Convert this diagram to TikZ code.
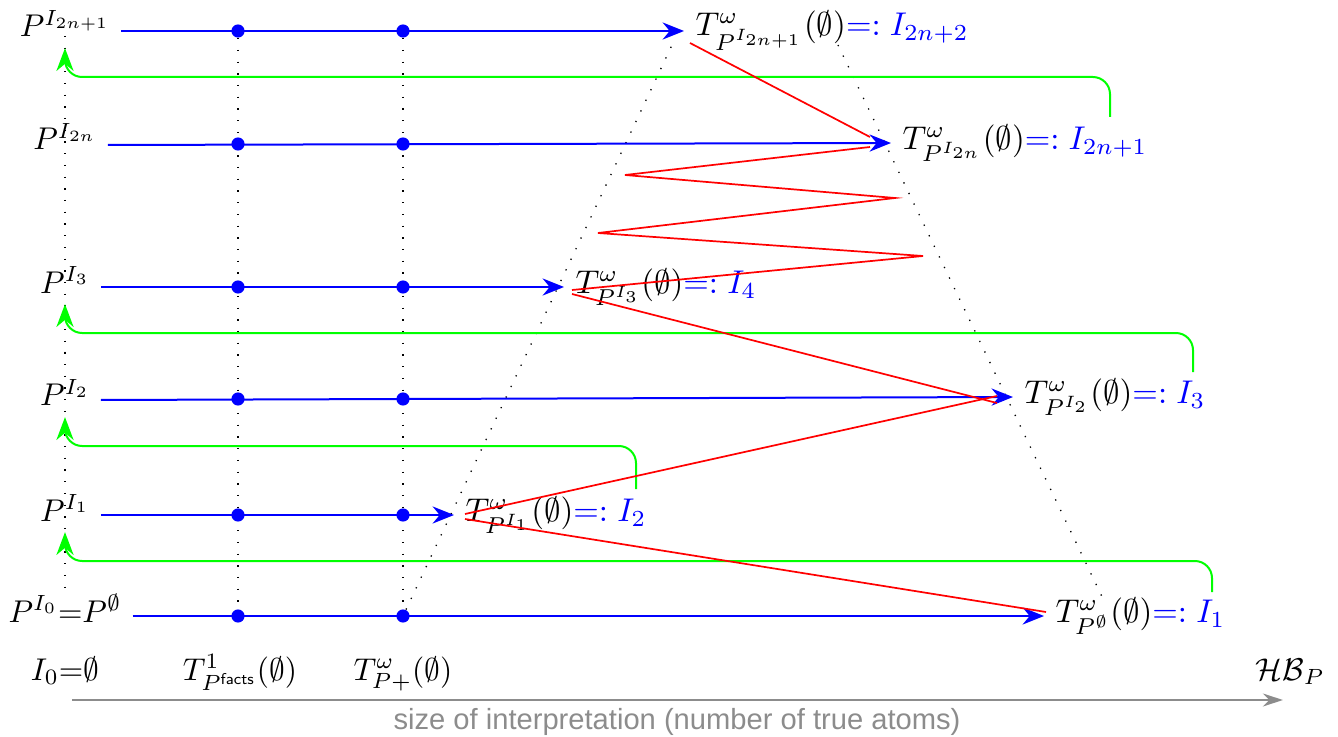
\documentclass[tikz,border=0pt]{standalone}
\usepackage{fontspec}
\newfontfamily\axisfont{Liberation Sans}
\usetikzlibrary{arrows.meta,backgrounds}
\begin{document}
\begin{tikzpicture}[x=0.35pt,y=-0.35pt,
  plabel/.style={scale=1.1, anchor=base},
  tlabel/.style={scale=1.15, anchor=west},
  bline/.style={blue, line width=0.7pt, -{Stealth[length=7.5pt,width=6pt,inset=2.5pt]}},
  gline/.style={green, line width=0.7pt, rounded corners=6pt, -{Stealth[length=8pt,width=6pt,inset=2.5pt]}},
  rline/.style={red, line width=0.6pt},
  dline/.style={black, line width=0.45pt, dash pattern=on 0.45pt off 3.65pt},
  bdot/.style={circle, fill=blue, inner sep=0pt, minimum size=4.6pt},
  axis/.style={black!45, line width=1pt, -{Stealth[length=7pt,width=4.5pt]}}
]
\useasboundingbox (0,0) rectangle (1338,737);

% row labels
\node[plabel] (P2n1) at (65,37) {$P^{I_{2n+1}}$};
\node[plabel] (P2n)  at (65,150) {$P^{I_{2n}}$};
\node[plabel] (P3)   at (65,293) {$P^{I_3}$};
\node[plabel] (P2)   at (65,406) {$P^{I_2}$};
\node[plabel] (P1)   at (65,521) {$P^{I_1}$};
\node[plabel] (P0)   at (65,622) {$P^{I_0}{=}P^{\emptyset}$};

% fixpoint labels
\node[tlabel] (T2n1) at (684,31)  {$T^{\omega}_{P^{I_{2n+1}}}(\emptyset)$\textcolor{blue}{$=:I_{2n+2}$}};
\node[tlabel] (T2n)  at (891,143) {$T^{\omega}_{P^{I_{2n}}}(\emptyset)$\textcolor{blue}{$=:I_{2n+1}$}};
\node[tlabel] (T3)   at (564,287) {$T^{\omega}_{P^{I_3}}(\emptyset)$\textcolor{blue}{$=:I_4$}};
\node[tlabel] (T2)   at (1013,397) {$T^{\omega}_{P^{I_2}}(\emptyset)$\textcolor{blue}{$=:I_3$}};
\node[tlabel] (T1)   at (454,515) {$T^{\omega}_{P^{I_1}}(\emptyset)$\textcolor{blue}{$=:I_2$}};
\node[tlabel] (T0)   at (1044,616) {$T^{\omega}_{P^{\emptyset}}(\emptyset)$\textcolor{blue}{$=:I_1$}};

% bottom labels
\node[plabel] (B0) at (65,680) {$I_0{=}\emptyset$};
\node[plabel] (B1) at (240,680) {$T^{1}_{P^{\mathsf{facts}}}(\emptyset)$};
\node[plabel] (B2) at (403,680) {$T^{\omega}_{P+}(\emptyset)$};
\node[plabel] (HB) at (1290,680) {$\mathcal{HB}_P$};
\node[anchor=base, black!45, font=\axisfont, scale=1.02] (axl) at (677,729) {size of interpretation (number of true atoms)};

% blue arrows
\draw[bline] (P2n1.east |- T2n1.west) -- (T2n1.west);
\draw[bline] (P2n.east |- 0,145) -- (T2n.west);
\draw[bline] (P3.east |- T3.west) -- (T3.west);
\draw[bline] (P2.east |- 0,400) -- (T2.west);
\draw[bline] (P1.east |- T1.west) -- (T1.west);
\draw[bline] (P0.east |- T0.west) -- (T0.west);

% green arrows
\coordinate (g1s) at (1212,592); \coordinate (g1h) at (65,561);
\coordinate (g2s) at (636,489);  \coordinate (g2h) at (65,446);
\coordinate (g3s) at (1193,372); \coordinate (g3h) at (65,333);
\coordinate (g4s) at (1110,117); \coordinate (g4h) at (65,77);
\draw[gline] (g1s) |- (g1h) -- (P1.south);
\draw[gline] (g2s) |- (g2h) -- (P2.south);
\draw[gline] (g3s) |- (g3h) -- (P3.south);
\draw[gline] (g4s) |- (g4h) -- (P2n1.south);

% dots
\foreach \r/\y in {t/31,s/144,c/287,b/399,a/515,z/616}{
  \node[bdot] (d\r a) at (238,\y) {};
  \node[bdot] (d\r b) at (403,\y) {};
}

% dotted guide lines
\coordinate (vt) at (65,36); \coordinate (vb) at (65,593);
\coordinate (dl) at (672,45);
\coordinate (dr1) at (838,45); \coordinate (dr2) at (1105,603);
\begin{scope}[on background layer]
\draw[dline] (vt) -- (vb);
\draw[dline] (dta) -- (dza);
\draw[dline] (dtb) -- (dzb);
\draw[dline] (dzb) -- (dl);
\draw[dline] (dr1) -- (dr2);
\end{scope}

% red zigzag
\coordinate (r1) at (1046,612); \coordinate (r2) at (465,519);
\coordinate (r3) at (465,514);  \coordinate (r4) at (997,396);
\coordinate (r5) at (997,403);  \coordinate (r6) at (572,294);
\coordinate (r7) at (572,290);  \coordinate (r8) at (923,256);
\coordinate (r9) at (598,233);  \coordinate (r10) at (895,198);
\coordinate (r11) at (625,175); \coordinate (r12) at (870,147);
\coordinate (r13) at (870,137); \coordinate (r14) at (690,43);
\draw[rline] (r1) -- (r2);
\draw[rline] (r3) -- (r4);
\draw[rline] (r5) -- (r6);
\draw[rline] (r7) -- (r8) -- (r9) -- (r10) -- (r11) -- (r12);
\draw[rline] (r13) -- (r14);

% axis
\coordinate (axL) at (72,700); \coordinate (axR) at (1283,700);
\draw[axis] (axL) -- (axR);
\end{tikzpicture}
\end{document}
